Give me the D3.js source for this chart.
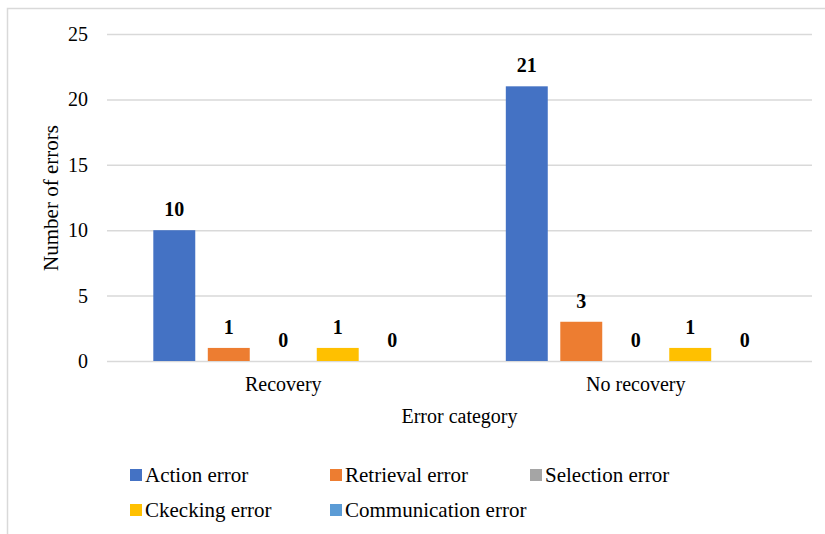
<!DOCTYPE html>
<html>
<head>
<meta charset="utf-8">
<script src="https://cdn.jsdelivr.net/npm/d3@7"></script>
<style>
  body { margin: 0; background: #fff; }
</style>
</head>
<body>
<script>
// data
var categories = ["Recovery", "No recovery"];
var series = ["Action error", "Retrieval error", "Selection error", "Ckecking error", "Communication error"];
var colours = ["#4472C4", "#ED7D31", "#A5A5A5", "#FFC000", "#5B9BD5"];
var values = [
  [10, 21],   // Action error
  [1, 3],     // Retrieval error
  [0, 0],     // Selection error
  [1, 1],     // Ckecking error
  [0, 0]      // Communication error
];
var yTicks = [0, 5, 10, 15, 20, 25];

var width = 825, height = 534;
var font = "Liberation Serif";

var svg = d3.select("body").append("svg")
    .attr("width", width)
    .attr("height", height)
    .attr("font-family", font);

// chart frame
svg.append("rect")
    .attr("x", 7.5).attr("y", 8.5)
    .attr("width", 840).attr("height", 560)
    .style("fill", "none")
    .style("stroke", "#d9d9d9")
    .style("stroke-width", 1.5);

//
//**   Osie   **/
//

var x0 = d3.scaleBand()
    .domain(categories)
    .range([107, 812]);

var x1 = d3.scaleBand()
    .domain(series)
    .range([0, x0.bandwidth()])
    .paddingInner(0.23)
    .paddingOuter(0.85);

var y = d3.scaleLinear()
    .domain([0, 25])
    .range([361, 34]);

var gY = svg.append("g")
    .attr("transform", "translate(107,0)")
    .call(d3.axisLeft(y).tickValues(yTicks).tickSize(-705).tickPadding(19));

gY.attr("font-family", font).attr("font-size", 20);
gY.select(".domain").remove();
gY.selectAll(".tick line")
    .style("stroke", "#d9d9d9")
    .style("stroke-width", 1.5);
gY.selectAll(".tick text")
    .attr("font-family", font)
    .attr("font-size", 20)
    .attr("fill", "#000");

var gX = svg.append("g")
    .attr("transform", "translate(0,361)")
    .call(d3.axisBottom(x0).tickSize(0).tickPadding(16));

gX.attr("font-family", font).attr("font-size", 20);
gX.select(".domain").remove();
gX.selectAll(".tick text")
    .attr("font-family", font)
    .attr("font-size", 20)
    .attr("fill", "#000");

svg.append("text")
    .attr("x", 459.5)
    .attr("y", 423)
    .attr("font-family", font)
    .attr("font-size", 20)
    .style("text-anchor", "middle")
    .text("Error category");

svg.append("text")
    .attr("transform", "rotate(-90)")
    .attr("x", -198)
    .attr("y", 58)
    .attr("font-family", font)
    .attr("font-size", 21)
    .style("text-anchor", "middle")
    .text("Number of errors");

//
//**   Wykres   **/
//

var rows = [];
series.forEach(function (s, i) {
  categories.forEach(function (c, j) {
    rows.push({ series: s, category: c, value: values[i][j], colour: colours[i] });
  });
});

svg.selectAll("rect.bar")
  .data(rows)
  .enter()
  .append("rect")
    .attr("class", "bar")
    .attr("x", function (d) { return x0(d.category) + x1(d.series); })
    .attr("width", x1.bandwidth())
    .attr("y", function (d) { return y(d.value); })
    .attr("height", function (d) { return y(0) - y(d.value); })
    .style("fill", function (d) { return d.colour; });

svg.selectAll("text.val")
  .data(rows)
  .enter()
  .append("text")
    .attr("class", "val")
    .attr("x", function (d) { return x0(d.category) + x1(d.series) + x1.bandwidth() / 2; })
    .attr("y", function (d) { return y(d.value) - 14; })
    .attr("font-family", font)
    .attr("font-size", 20)
    .attr("font-weight", "bold")
    .style("text-anchor", "middle")
    .text(function (d) { return d.value; });

//
//**   Legenda   **/
//

var legendPos = [[130, 475], [330, 475], [530, 475], [130, 510], [330, 510]];

var legend = svg.selectAll("g.legend")
  .data(series)
  .enter()
  .append("g")
    .attr("class", "legend")
    .attr("transform", function (d, i) { return "translate(" + legendPos[i][0] + "," + legendPos[i][1] + ")"; });

legend.append("rect")
    .attr("x", 0).attr("y", -6)
    .attr("width", 12).attr("height", 12)
    .style("fill", function (d, i) { return colours[i]; });

legend.append("text")
    .attr("x", 15)
    .attr("y", 7)
    .attr("font-family", font)
    .attr("font-size", 21)
    .text(function (d) { return d; });
</script>
</body>
</html>
